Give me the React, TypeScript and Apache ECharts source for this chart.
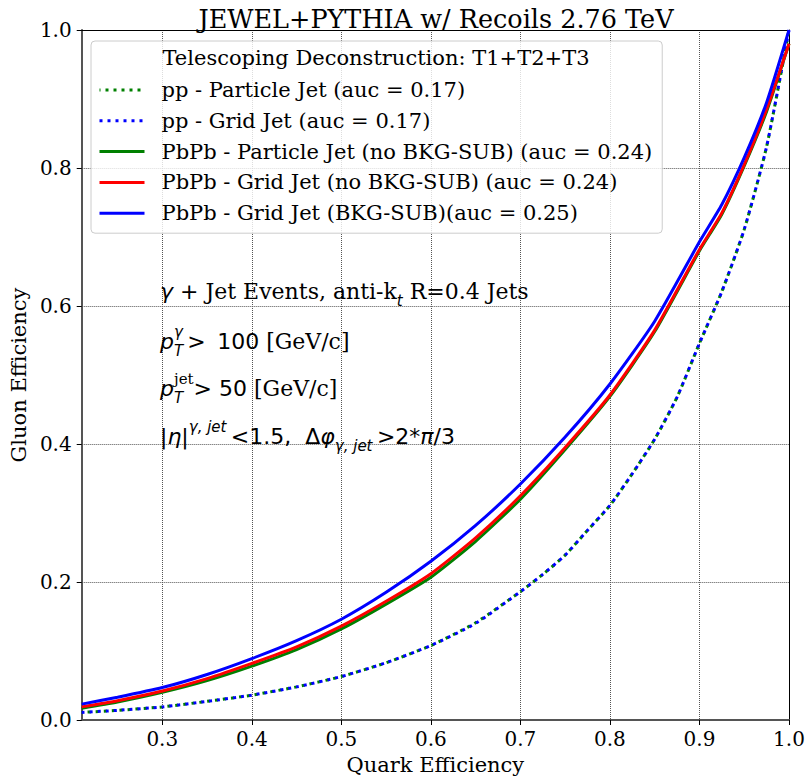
import React, { useEffect, useRef } from "react";
import * as echarts from "echarts";

// Quark efficiency sample points (x) and gluon efficiency values (y)
const quarkEffPbPb = [0.21, 0.25, 0.3, 0.35, 0.4, 0.45, 0.5, 0.55, 0.6, 0.65, 0.7, 0.75, 0.8, 0.85, 0.9, 0.925, 0.95, 0.975, 1.0];
const pbpbParticleNoSub = [0.017, 0.026, 0.040, 0.057, 0.078, 0.102, 0.132, 0.168, 0.207, 0.259, 0.320, 0.392, 0.469, 0.563, 0.680, 0.733, 0.803, 0.882, 0.980];
const pbpbGridNoSub = [0.019, 0.028, 0.042, 0.060, 0.082, 0.106, 0.136, 0.172, 0.212, 0.264, 0.325, 0.395, 0.471, 0.565, 0.682, 0.735, 0.805, 0.885, 0.980];
const pbpbGridSub = [0.023, 0.033, 0.047, 0.066, 0.089, 0.115, 0.146, 0.185, 0.230, 0.282, 0.342, 0.410, 0.487, 0.578, 0.693, 0.747, 0.815, 0.895, 1.0];

const quarkEffPP = [0.21, 0.25, 0.3, 0.35, 0.4, 0.45, 0.5, 0.55, 0.6, 0.65, 0.7, 0.725, 0.75, 0.775, 0.8, 0.825, 0.85, 0.875, 0.9, 0.925, 0.95, 0.975, 1.0];
const ppParticle = [0.011, 0.014, 0.019, 0.027, 0.036, 0.048, 0.063, 0.083, 0.108, 0.141, 0.186, 0.211, 0.239, 0.275, 0.311, 0.357, 0.407, 0.468, 0.546, 0.621, 0.711, 0.831, 1.0];
const ppGrid = [0.011, 0.014, 0.019, 0.027, 0.036, 0.048, 0.063, 0.083, 0.108, 0.140, 0.186, 0.211, 0.239, 0.275, 0.311, 0.357, 0.407, 0.468, 0.546, 0.621, 0.711, 0.831, 1.0];

const seriesNames = [
  "pp - Particle Jet (auc = 0.17)",
  "pp - Grid Jet (auc = 0.17)",
  "PbPb - Particle Jet (no BKG-SUB) (auc = 0.24)",
  "PbPb - Grid Jet (no BKG-SUB) (auc = 0.24)",
  "PbPb - Grid Jet (BKG-SUB)(auc = 0.25)",
];

const titleText = "JEWEL+PYTHIA w/ Recoils 2.76 TeV";
const legendTitle = "Telescoping Deconstruction: T1+T2+T3";
const xName = "Quark Efficiency";
const yName = "Gluon Efficiency";

const SERIF = '"DejaVu Serif", serif';
const SANS = '"DejaVu Sans", sans-serif';

const GREEN = "#008000";
const BLUE = "#0000ff";
const RED = "#ff0000";

function mk(name: string, xs: number[], ys: number[], color: string, dotted: boolean, dashOffset = 0) {
  return {
    name,
    type: "line",
    data: xs.map((x, i) => [x, ys[i]]),
    symbol: "none",
    showSymbol: false,
    smooth: 0.2,
    lineStyle: { color, width: 3, type: dotted ? [3, 5] : "solid", dashOffset, cap: "butt" },
    itemStyle: { color },
    xAxisIndex: 0,
    yAxisIndex: 0,
    z: 3,
  };
}

const base = { fill: "#000", color: "#000" };
const rich = {
  r: { ...base, fontFamily: SERIF, fontSize: 22, lineHeight: 34 },
  m: { ...base, fontFamily: SANS, fontSize: 22, lineHeight: 34 },
  mi: { ...base, fontFamily: SANS, fontSize: 22, fontStyle: "italic", lineHeight: 34 },
  supi: { ...base, fontFamily: SANS, fontSize: 15, fontStyle: "italic", lineHeight: 16, verticalAlign: "top" },
  supr: { ...base, fontFamily: SERIF, fontSize: 15, lineHeight: 16, verticalAlign: "top" },
  subi: { ...base, fontFamily: SANS, fontSize: 15, fontStyle: "italic", lineHeight: 16, verticalAlign: "bottom" },
  subz: { ...base, fontFamily: SANS, fontSize: 15, fontStyle: "italic", lineHeight: 16, verticalAlign: "bottom", width: 0.1 },
};

const annotationLines = [
  "{mi|γ}{m| + }{r|Jet Events, anti-k}{subi|t}{r| R=0.4 Jets}",
  "{mi|p}{subz|T}{supi|γ}{m|\u2009> \u2009100 }{r|[GeV/c]}",
  "{mi|p}{subz|T}{supr|jet}{m|> 50 }{r|[GeV/c]}",
  "{m||}{mi|η}{m||}{supi|γ, jet}{m|\u2009<1.5,  Δ}{mi|φ}{subi|γ, jet}{m|\u2009>2*}{mi|π}{m|/3}",
];
const annotationY = [291, 341, 388, 436];

export default function App() {
  const ref = useRef<HTMLDivElement>(null);
  useEffect(() => {
    if (!ref.current) return;
    const chart = echarts.init(ref.current, undefined, { renderer: "svg" });
    const axisLabelStyle = { fontFamily: SERIF, fontSize: 20, color: "#000" };
    const option: any = {
      animation: false,
      backgroundColor: "#ffffff",
      title: {
        text: titleText,
        left: 431,
        top: 1,
        textAlign: "center",
        textStyle: { fontFamily: SERIF, fontSize: 25.5, fontWeight: "normal", color: "#000" },
      },
      grid: { left: 80, right: 19, top: 30, bottom: 59, containLabel: false },
      legend: {
        orient: "vertical",
        left: 91,
        top: 41,
        padding: [38, 10, 9, 7],
        itemWidth: 45,
        itemHeight: 14,
        itemGap: 8.8,
        backgroundColor: "rgba(255,255,255,0.8)",
        borderColor: "#cccccc",
        borderWidth: 1,
        borderRadius: 4,
        z: 10,
        itemStyle: { opacity: 0 },
        lineStyle: { width: 3 },
        textStyle: { fontFamily: SERIF, fontSize: 21, color: "#000", lineHeight: 22, padding: [0, 0, 0, 12] },
        data: seriesNames,
      },
      xAxis: [
        {
          type: "value",
          min: 0.21,
          max: 1.0,
          splitNumber: 8,
          position: "bottom",
          name: xName,
          nameLocation: "middle",
          nameGap: 34,
          nameTextStyle: { fontFamily: SERIF, fontSize: 21, color: "#000" },
          axisLine: { show: true, onZero: false, lineStyle: { color: "#555", width: 2 } },
          axisTick: { show: true, inside: false, length: 5, lineStyle: { color: "#000", width: 1 } },
          axisLabel: { ...axisLabelStyle, margin: 9, showMinLabel: false, formatter: (v: number) => v.toFixed(1) },
          splitLine: { show: true, lineStyle: { color: "#555", width: 1, type: [1, 1] } },
        },
        {
          type: "value",
          min: 0.21,
          max: 1.0,
          position: "top",
          axisLine: { show: true, onZero: false, lineStyle: { color: "#000", width: 1 } },
          axisTick: { show: false },
          axisLabel: { show: false },
          splitLine: { show: false },
        },
      ],
      yAxis: [
        {
          type: "value",
          min: 0,
          max: 1,
          interval: 0.2,
          position: "left",
          name: yName,
          nameLocation: "middle",
          nameGap: 52,
          nameTextStyle: { fontFamily: SERIF, fontSize: 21, color: "#000" },
          axisLine: { show: true, onZero: false, lineStyle: { color: "#555", width: 2 } },
          axisTick: { show: true, inside: false, length: 5, lineStyle: { color: "#000", width: 1 } },
          axisLabel: { ...axisLabelStyle, margin: 10, formatter: (v: number) => v.toFixed(1) },
          splitLine: { show: true, lineStyle: { color: "#555", width: 1, type: [1, 1] } },
        },
        {
          type: "value",
          min: 0,
          max: 1,
          position: "right",
          axisLine: { show: true, onZero: false, lineStyle: { color: "#000", width: 1 } },
          axisTick: { show: false },
          axisLabel: { show: false },
          splitLine: { show: false },
        },
      ],
      series: [
        mk(seriesNames[0], quarkEffPP, ppParticle, GREEN, true, 2),
        mk(seriesNames[1], quarkEffPP, ppGrid, BLUE, true),
        mk(seriesNames[2], quarkEffPbPb, pbpbParticleNoSub, GREEN, false),
        mk(seriesNames[3], quarkEffPbPb, pbpbGridNoSub, RED, false),
        mk(seriesNames[4], quarkEffPbPb, pbpbGridSub, BLUE, false),
      ],
      graphic: [
        {
          type: "text",
          x: 376,
          y: 58,
          z: 100,
          style: { text: legendTitle, font: `21px ${SERIF}`, fill: "#000", align: "center", verticalAlign: "middle" },
        },
        ...annotationLines.map((t, i) => ({
          type: "text",
          x: 160,
          y: annotationY[i],
          z: 100,
          style: { text: t, rich, fill: "#000", align: "left", verticalAlign: "middle" },
        })),
      ],
    };
    chart.setOption(option);
    return () => chart.dispose();
  }, []);
  return (
    <div
      ref={ref}
      style={{ position: "fixed", left: 0, top: 0, width: 808, height: 780, background: "#fff" }}
    />
  );
}
